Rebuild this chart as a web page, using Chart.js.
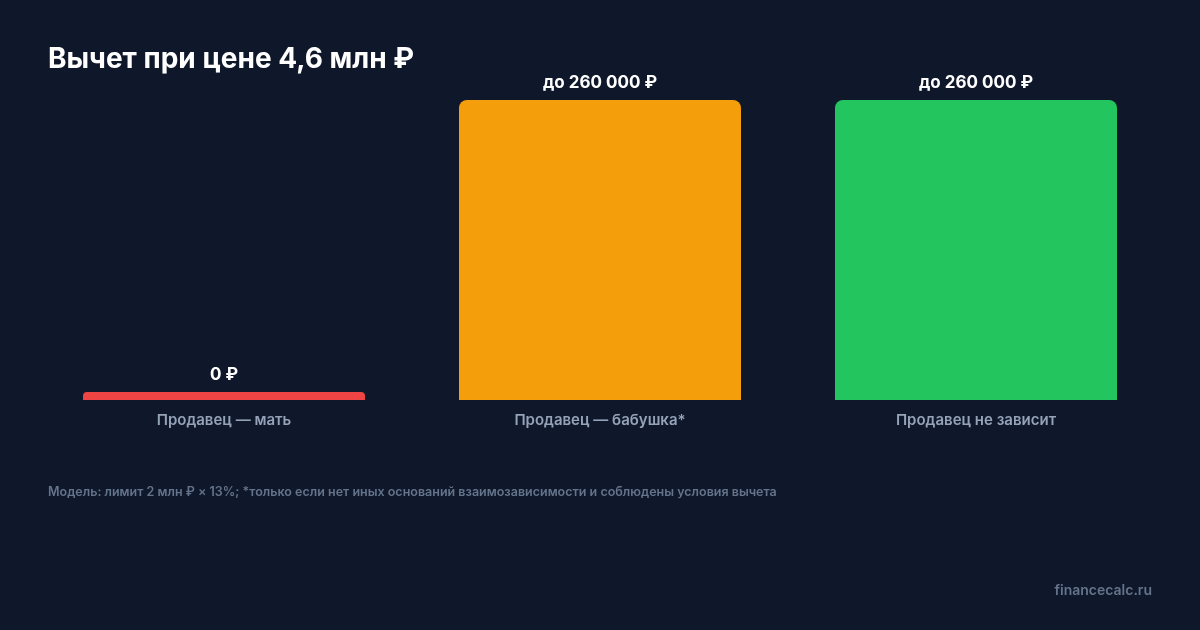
<!DOCTYPE html>
<html><head><meta charset="utf-8">
<script src="https://cdn.jsdelivr.net/npm/chart.js@4/dist/chart.umd.min.js"></script>
<style>html,body{margin:0;background:#0f172a;}canvas{display:block}</style>
</head><body>
<div style="width:1200px;height:630px;position:relative"><canvas id="c" width="1200" height="630"></canvas></div>
<script>
const categories = ["Продавец — мать", "Продавец — бабушка*", "Продавец не зависит"];
const values = [0, 260000, 260000];
const valueLabels = ["0 ₽", "до 260 000 ₽", "до 260 000 ₽"];
const colors = ["#ef4444", "#f59e0b", "#22c55e"];
const title = "Вычет при цене 4,6 млн ₽";
const footnote = "Модель: лимит 2 млн ₽ × 13%; *только если нет иных оснований взаимозависимости и соблюдены условия вычета";
const watermark = "financecalc.ru";
const F = "Inter, 'Noto Sans', sans-serif";
const deco = {
  id: 'deco',
  beforeDraw(ch){ const c=ch.ctx; c.save(); c.fillStyle='#0f172a'; c.fillRect(0,0,ch.width,ch.height); c.restore(); },
  afterDatasetsDraw(ch){
    const c=ch.ctx, meta=ch.getDatasetMeta(0), x=ch.scales.x;
    c.save();
    c.textAlign='center'; c.textBaseline='alphabetic';
    meta.data.forEach((b,i)=>{
      c.fillStyle='#ffffff'; c.font='bold 17px '+F;
      c.fillText(valueLabels[i], b.x, b.y-12);
      c.fillStyle='#94a3b8'; c.font='600 15px '+F;
      c.fillText(categories[i], x.getPixelForValue(i), 425);
    });
    c.textAlign='left'; c.fillStyle='#ffffff'; c.font='bold 28px '+F;
    c.fillText(title, 48, 68);
    c.fillStyle='#64748b'; c.font='600 12.5px '+F;
    c.fillText(footnote, 48, 496);
    c.textAlign='right'; c.font='600 14px '+F;
    c.fillText(watermark, 1152, 595);
    c.restore();
  }
};
new Chart(document.getElementById('c'), {
  type:'bar',
  data:{labels:categories, datasets:[{data:values, backgroundColor:colors, borderRadius:{topLeft:8,topRight:8}, borderSkipped:'bottom', minBarLength:8, barPercentage:0.75, categoryPercentage:1}]},
  options:{responsive:false, animation:false, devicePixelRatio:1,
    layout:{padding:{left:36,right:36,top:100,bottom:230}},
    plugins:{legend:{display:false}, tooltip:{enabled:false}},
    scales:{x:{display:false}, y:{display:false, min:0, max:260000}}},
  plugins:[deco]
});
</script></body></html>
